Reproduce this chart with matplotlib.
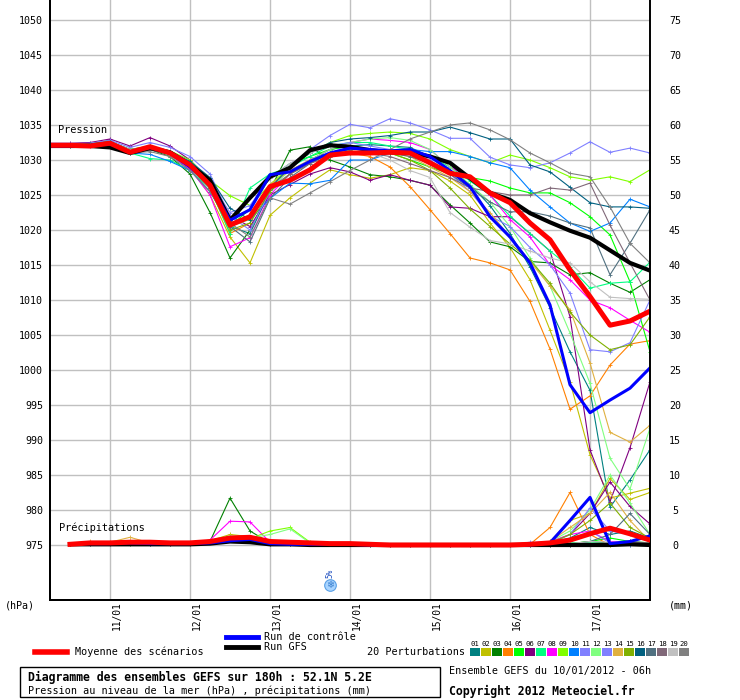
import numpy as np
import matplotlib
matplotlib.use("Agg")
import matplotlib.pyplot as plt
from matplotlib.lines import Line2D
from matplotlib.patches import Rectangle
from matplotlib.transforms import offset_copy

plt.rcParams["font.family"] = ["DejaVu Sans Mono", "DejaVu Sans"]

nan = np.nan

# forecast hours, every 6h from 10/01 06h
hours = list(range(0, 181, 6))
day_hours = [18, 42, 66, 90, 114, 138, 162]
day_labels = ["11/01", "12/01", "13/01", "14/01", "15/01", "16/01", "17/01"]

# sea level pressure (hPa)
p01 = [1032.1, 1032.1, 1032.2, 1032.6, 1031.0, 1031.5, 1030.8, 1028.6, 1025.5, 1020.5, 1019.5, 1025.5, 1028.0, 1030.0, 1031.5, 1032.0, 1032.2, 1032.0, 1031.8, 1030.5, 1028.5, 1026.5, 1023.5, 1019.5, 1014.7, 1008.9, 1002.6, 997.1, 980.4, 984.3, 988.6]
p02 = [1032.0, 1032.0, 1032.1, 1032.5, 1031.2, 1031.6, 1030.8, 1028.8, 1025.0, 1019.0, 1015.3, 1022.1, 1024.6, 1026.7, 1028.6, 1027.9, 1027.4, 1027.9, 1028.9, 1028.5, 1027.0, 1025.0, 1021.0, 1017.5, 1012.9, 1005.7, 998.3, 987.9, 981.7, 982.4, 983.1]
p03 = [1032.3, 1032.3, 1032.3, 1032.8, 1031.0, 1031.5, 1030.5, 1028.0, 1022.5, 1016.0, 1020.0, 1025.7, 1031.4, 1031.9, 1030.0, 1029.0, 1027.9, 1027.6, 1027.1, 1026.4, 1023.6, 1021.0, 1018.3, 1017.6, 1015.5, 1015.3, 1013.6, 1013.9, 1012.4, 1011.1, 1012.9]
p04 = [1032.0, 1032.0, 1032.1, 1032.4, 1031.3, 1031.8, 1031.0, 1029.0, 1026.0, 1019.5, 1021.0, 1026.5, 1028.5, 1030.0, 1030.5, 1031.0, 1030.5, 1029.0, 1026.2, 1022.9, 1019.5, 1016.0, 1015.3, 1014.3, 1009.8, 1003.0, 994.4, 996.3, 1000.7, 1003.7, 1004.2]
p05 = [1032.2, 1032.1, 1032.2, 1032.5, 1031.5, 1031.8, 1031.2, 1029.5, 1026.5, 1020.5, 1023.0, 1027.5, 1029.5, 1030.5, 1031.5, 1032.0, 1031.5, 1031.0, 1030.0, 1029.0, 1028.0, 1027.5, 1027.0, 1026.0, 1025.3, 1025.3, 1023.9, 1021.9, 1019.3, 1012.6, 1002.6]
p06 = [1032.4, 1032.4, 1032.5, 1033.0, 1032.0, 1033.2, 1032.0, 1030.0, 1027.0, 1022.0, 1020.5, 1025.0, 1026.5, 1028.0, 1028.9, 1028.3, 1027.1, 1027.9, 1027.1, 1026.4, 1023.3, 1023.1, 1021.9, 1021.9, 1019.5, 1017.0, 1007.6, 988.6, 981.2, 988.9, 998.3]
p07 = [1032.0, 1032.0, 1032.1, 1032.5, 1031.0, 1030.2, 1030.0, 1028.5, 1026.0, 1019.5, 1026.0, 1028.0, 1029.0, 1030.5, 1032.0, 1032.5, 1032.5, 1032.0, 1031.5, 1030.5, 1029.0, 1027.0, 1025.0, 1022.0, 1019.5, 1017.0, 1014.7, 1011.7, 1012.4, 1012.6, 1015.4]
p08 = [1032.0, 1032.0, 1032.0, 1032.3, 1031.2, 1031.5, 1030.8, 1028.7, 1025.0, 1017.6, 1018.9, 1025.0, 1028.0, 1030.0, 1031.5, 1032.5, 1033.0, 1032.8, 1032.5, 1031.5, 1029.0, 1027.5, 1025.0, 1021.5, 1019.0, 1015.0, 1012.9, 1010.0, 1008.9, 1007.1, 1005.4]
p09 = [1032.1, 1032.1, 1032.2, 1032.6, 1031.5, 1032.0, 1031.3, 1030.0, 1027.1, 1024.9, 1023.5, 1026.5, 1029.0, 1031.0, 1032.5, 1033.5, 1033.8, 1034.0, 1033.8, 1033.0, 1031.5, 1030.5, 1029.6, 1030.7, 1030.0, 1028.9, 1027.6, 1027.1, 1027.6, 1026.9, 1028.6]
p10 = [1032.0, 1032.0, 1032.1, 1032.3, 1031.0, 1030.8, 1029.8, 1028.5, 1025.5, 1021.0, 1021.5, 1024.5, 1026.7, 1026.6, 1027.1, 1030.0, 1030.0, 1031.0, 1031.5, 1031.2, 1031.2, 1030.5, 1029.6, 1028.9, 1025.7, 1023.3, 1021.0, 1019.8, 1021.0, 1024.4, 1023.3]
p11 = [1032.3, 1032.3, 1032.4, 1032.8, 1031.8, 1032.5, 1031.8, 1030.5, 1028.0, 1022.0, 1020.0, 1025.5, 1029.0, 1031.5, 1033.5, 1035.1, 1034.6, 1035.9, 1035.3, 1034.3, 1033.1, 1033.1, 1030.4, 1029.3, 1028.9, 1029.6, 1031.0, 1032.6, 1031.1, 1031.7, 1031.0]
p12 = [1032.0, 1032.0, 1032.1, 1032.5, 1031.4, 1031.6, 1031.0, 1029.0, 1026.0, 1020.5, 1021.5, 1026.0, 1028.5, 1030.0, 1031.5, 1032.5, 1033.0, 1033.2, 1032.8, 1031.5, 1029.0, 1026.5, 1024.0, 1020.5, 1016.0, 1012.0, 1005.3, 998.1, 987.4, 983.0, 991.7]
p13 = [1032.1, 1032.1, 1032.2, 1032.5, 1031.3, 1031.8, 1031.2, 1029.5, 1026.8, 1022.5, 1023.5, 1027.5, 1029.5, 1031.0, 1032.0, 1032.5, 1032.0, 1031.5, 1031.0, 1030.0, 1028.0, 1025.5, 1022.0, 1020.5, 1017.5, 1015.0, 1011.0, 1002.9, 1002.6, 1003.9, 1010.0]
p14 = [1032.0, 1032.0, 1032.0, 1032.4, 1031.2, 1031.5, 1031.0, 1029.2, 1026.5, 1021.0, 1022.0, 1026.5, 1028.5, 1030.0, 1031.0, 1031.5, 1031.5, 1031.0, 1030.5, 1029.0, 1027.5, 1025.5, 1022.5, 1019.0, 1015.5, 1012.0, 1008.6, 1001.0, 991.1, 989.7, 992.1]
p15 = [1032.2, 1032.2, 1032.3, 1032.6, 1031.5, 1032.0, 1031.2, 1029.3, 1026.0, 1020.0, 1021.0, 1025.5, 1028.0, 1029.5, 1031.0, 1031.5, 1031.5, 1031.0, 1030.0, 1028.5, 1026.0, 1023.0, 1020.5, 1018.0, 1015.7, 1012.4, 1008.3, 1005.0, 1002.9, 1003.6, 1007.6]
p16 = [1032.2, 1032.2, 1032.3, 1032.6, 1031.5, 1031.8, 1031.2, 1029.8, 1027.5, 1023.1, 1021.5, 1026.0, 1029.0, 1031.0, 1032.5, 1033.0, 1033.2, 1033.5, 1034.0, 1034.0, 1034.7, 1033.9, 1033.0, 1033.0, 1029.3, 1028.3, 1026.1, 1023.9, 1023.3, 1023.3, 1023.1]
p17 = [1032.1, 1032.1, 1032.2, 1032.5, 1031.3, 1031.6, 1031.0, 1029.2, 1026.0, 1020.5, 1018.3, 1024.5, 1027.5, 1029.5, 1031.0, 1031.5, 1031.5, 1031.0, 1030.5, 1029.5, 1028.0, 1026.0, 1024.0, 1022.6, 1022.6, 1022.0, 1021.0, 1020.3, 1013.6, 1018.1, 1022.9]
p18 = [1032.0, 1032.0, 1032.1, 1032.4, 1031.2, 1031.5, 1030.8, 1029.0, 1026.0, 1021.0, 1022.0, 1026.0, 1028.0, 1029.5, 1030.5, 1031.0, 1031.0, 1030.5, 1029.5, 1028.5, 1027.5, 1026.0, 1025.5, 1025.0, 1025.0, 1026.0, 1025.7, 1026.7, 1020.7, 1015.3, 1010.0]
p19 = [1032.0, 1032.0, 1032.1, 1032.5, 1031.5, 1031.8, 1031.2, 1029.5, 1027.0, 1021.5, 1023.0, 1027.5, 1029.5, 1031.0, 1032.0, 1032.0, 1031.0, 1030.0, 1028.5, 1027.5, 1022.5, 1020.4, 1018.5, 1018.0, 1017.0, 1016.0, 1015.3, 1012.6, 1010.4, 1010.2, 1010.1]
p20 = [1032.0, 1032.0, 1032.1, 1032.4, 1031.0, 1031.2, 1030.5, 1028.5, 1025.5, 1021.0, 1019.0, 1024.6, 1023.7, 1025.3, 1026.9, 1028.5, 1030.0, 1031.5, 1033.0, 1034.0, 1035.0, 1035.3, 1034.3, 1032.9, 1031.0, 1029.6, 1028.1, 1027.6, 1023.3, 1018.1, 1015.3]
p_ctrl = [1032.0, 1032.0, 1032.1, 1032.3, 1031.2, 1031.8, 1031.0, 1029.0, 1026.5, 1021.4, 1022.9, 1027.9, 1028.3, 1029.8, 1031.0, 1031.7, 1031.5, 1031.3, 1031.5, 1030.5, 1028.5, 1026.2, 1021.9, 1019.0, 1015.3, 1009.3, 997.9, 993.9, 995.7, 997.4, 1000.3]
p_gfs = [1032.0, 1032.0, 1032.0, 1031.8, 1031.0, 1031.7, 1031.1, 1029.3, 1027.1, 1021.4, 1024.6, 1027.6, 1028.9, 1031.4, 1032.1, 1031.9, 1031.4, 1031.1, 1031.1, 1030.5, 1029.6, 1027.4, 1025.3, 1024.3, 1022.4, 1021.1, 1019.9, 1018.9, 1017.1, 1015.3, 1014.2]
p_mean = [1032.1, 1032.1, 1032.0, 1032.4, 1031.1, 1031.9, 1031.0, 1029.3, 1026.4, 1020.7, 1021.9, 1026.2, 1027.1, 1028.6, 1030.7, 1031.0, 1031.0, 1031.1, 1031.0, 1029.6, 1028.1, 1027.6, 1025.3, 1023.9, 1021.0, 1018.6, 1014.3, 1010.5, 1006.4, 1007.0, 1008.4]

# 6h precipitation (mm)
r01 = [nan, 0.2, 0.2, 0.3, 0.3, 0.2, 0.3, 0.2, 0.5, 1.0, 0.8, 0.2, 0.2, 0.1, 0.2, 0.1, 0.0, 0.0, 0.0, 0.0, 0.0, 0.0, 0.0, 0.0, 0.0, 0.2, 1.0, 2.5, 1.5, 2.0, 1.0]
r02 = [nan, 0.1, 0.2, 0.2, 0.4, 0.3, 0.2, 0.2, 0.6, 1.5, 1.2, 0.3, 0.2, 0.2, 0.1, 0.1, 0.0, 0.0, 0.0, 0.0, 0.0, 0.0, 0.0, 0.0, 0.0, 0.5, 3.5, 4.5, 9.5, 6.5, 7.5]
r03 = [nan, 0.1, 0.2, 0.2, 0.3, 0.2, 0.2, 0.3, 0.5, 6.7, 2.0, 0.3, 0.2, 0.1, 0.1, 0.1, 0.0, 0.0, 0.0, 0.0, 0.0, 0.0, 0.0, 0.0, 0.0, 0.0, 0.2, 0.5, 0.3, 0.2, 0.1]
r04 = [nan, 0.2, 0.4, 0.3, 0.6, 0.4, 0.3, 0.2, 0.4, 0.9, 0.7, 0.2, 0.1, 0.2, 0.2, 0.1, 0.0, 0.0, 0.0, 0.0, 0.0, 0.0, 0.0, 0.0, 0.1, 2.5, 7.5, 1.5, 0.0, 0.0, 0.0]
r05 = [nan, 0.1, 0.1, 0.2, 0.2, 0.2, 0.2, 0.2, 0.4, 0.9, 0.6, 0.2, 0.2, 0.2, 0.1, 0.1, 0.0, 0.0, 0.0, 0.0, 0.0, 0.0, 0.0, 0.0, 0.0, 0.0, 0.2, 0.5, 1.0, 0.5, 0.3]
r06 = [nan, 0.2, 0.3, 0.3, 0.3, 0.3, 0.3, 0.2, 0.5, 1.2, 1.0, 0.3, 0.2, 0.2, 0.1, 0.1, 0.0, 0.0, 0.0, 0.0, 0.0, 0.0, 0.0, 0.0, 0.0, 0.3, 1.5, 4.5, 9.0, 5.5, 3.0]
r07 = [nan, 0.1, 0.2, 0.2, 0.3, 0.2, 0.2, 0.2, 0.6, 1.0, 0.9, 0.3, 0.2, 0.2, 0.1, 0.1, 0.0, 0.0, 0.0, 0.0, 0.0, 0.0, 0.0, 0.0, 0.0, 0.1, 0.3, 0.3, 0.2, 0.3, 0.2]
r08 = [nan, 0.2, 0.2, 0.3, 0.3, 0.3, 0.2, 0.3, 0.7, 3.4, 3.3, 0.4, 0.2, 0.1, 0.1, 0.1, 0.0, 0.0, 0.0, 0.0, 0.0, 0.0, 0.0, 0.0, 0.3, 0.5, 1.5, 2.0, 0.5, 0.3, 0.2]
r09 = [nan, 0.1, 0.2, 0.2, 0.2, 0.3, 0.2, 0.2, 0.4, 0.8, 0.9, 2.0, 2.5, 0.4, 0.1, 0.1, 0.0, 0.0, 0.0, 0.0, 0.0, 0.0, 0.0, 0.0, 0.0, 0.0, 0.0, 0.1, 0.0, 0.1, 0.0]
r10 = [nan, 0.2, 0.3, 0.2, 0.3, 0.2, 0.2, 0.2, 0.5, 0.9, 0.7, 0.2, 0.1, 0.2, 0.2, 0.1, 0.0, 0.0, 0.0, 0.0, 0.0, 0.0, 0.0, 0.0, 0.0, 0.0, 0.0, 0.2, 0.1, 0.0, 0.2]
r11 = [nan, 0.1, 0.2, 0.3, 0.3, 0.2, 0.3, 0.2, 0.4, 1.1, 0.8, 0.2, 0.2, 0.1, 0.1, 0.1, 0.0, 0.0, 0.0, 0.0, 0.0, 0.0, 0.0, 0.0, 0.4, 0.3, 0.5, 2.0, 0.3, 0.5, 0.2]
r12 = [nan, 0.1, 0.2, 0.2, 0.3, 0.3, 0.2, 0.2, 0.5, 1.3, 1.0, 1.5, 2.3, 0.3, 0.2, 0.1, 0.0, 0.0, 0.0, 0.0, 0.0, 0.0, 0.0, 0.0, 0.0, 0.5, 2.0, 5.0, 10.0, 6.0, 1.5]
r13 = [nan, 0.2, 0.2, 0.2, 0.3, 0.2, 0.2, 0.2, 0.4, 0.9, 0.8, 0.3, 0.2, 0.2, 0.1, 0.1, 0.0, 0.0, 0.0, 0.0, 0.0, 0.0, 0.0, 0.0, 0.0, 0.2, 1.5, 5.3, 2.0, 1.5, 0.5]
r14 = [nan, 0.2, 0.5, 0.4, 1.1, 0.3, 0.3, 0.2, 0.5, 1.0, 0.8, 0.2, 0.2, 0.2, 0.1, 0.1, 0.0, 0.0, 0.0, 0.0, 0.0, 0.0, 0.0, 0.0, 0.0, 0.5, 2.5, 4.5, 7.5, 3.5, 0.5]
r15 = [nan, 0.1, 0.2, 0.2, 0.3, 0.2, 0.2, 0.2, 0.4, 0.8, 0.8, 0.3, 0.2, 0.2, 0.1, 0.1, 0.0, 0.0, 0.0, 0.0, 0.0, 0.0, 0.0, 0.0, 0.0, 0.3, 1.5, 3.5, 6.0, 2.5, 1.0]
r16 = [nan, 0.2, 0.3, 0.3, 0.3, 0.2, 0.2, 0.3, 0.6, 1.0, 0.7, 0.2, 0.1, 0.1, 0.1, 0.1, 0.0, 0.0, 0.0, 0.0, 0.0, 0.0, 0.0, 0.0, 0.0, 0.0, 0.1, 0.2, 0.3, 0.3, 0.2]
r17 = [nan, 0.1, 0.2, 0.2, 0.2, 0.2, 0.2, 0.2, 0.5, 0.9, 0.9, 0.2, 0.2, 0.1, 0.1, 0.1, 0.0, 0.0, 0.0, 0.0, 0.0, 0.0, 0.0, 0.0, 0.0, 0.0, 0.1, 0.5, 1.5, 4.5, 1.5]
r18 = [nan, 0.1, 0.2, 0.2, 0.3, 0.3, 0.2, 0.2, 0.4, 0.8, 0.6, 0.2, 0.1, 0.1, 0.1, 0.1, 0.0, 0.0, 0.0, 0.0, 0.0, 0.0, 0.0, 0.0, 0.0, 0.0, 0.0, 0.1, 0.3, 0.5, 0.2]
r19 = [nan, 0.1, 0.2, 0.2, 0.2, 0.2, 0.2, 0.2, 0.5, 0.9, 0.8, 0.3, 0.2, 0.2, 0.1, 0.1, 0.0, 0.0, 0.0, 0.0, 0.0, 0.0, 0.0, 0.0, 0.0, 0.0, 0.2, 0.5, 0.4, 0.3, 0.2]
r20 = [nan, 0.2, 0.2, 0.3, 0.3, 0.2, 0.2, 0.2, 0.4, 0.9, 0.8, 0.2, 0.1, 0.1, 0.1, 0.1, 0.0, 0.0, 0.0, 0.0, 0.0, 0.0, 0.0, 0.0, 0.0, 0.0, 0.0, 0.1, 0.2, 0.5, 0.3]
r_ctrl = [nan, 0.2, 0.2, 0.2, 0.3, 0.2, 0.2, 0.2, 0.3, 0.6, 0.8, 0.2, 0.1, 0.1, 0.1, 0.1, 0.0, 0.0, 0.0, 0.0, 0.0, 0.0, 0.0, 0.0, 0.0, 0.3, 3.5, 6.8, 0.2, 0.5, 1.3]
r_gfs = [nan, 0.1, 0.1, 0.1, 0.1, 0.1, 0.1, 0.1, 0.2, 0.5, 0.4, 0.1, 0.1, 0.0, 0.0, 0.0, 0.0, 0.0, 0.0, 0.0, 0.0, 0.0, 0.0, 0.0, 0.0, 0.0, 0.0, 0.0, 0.0, 0.1, 0.0]
r_mean = [nan, 0.1, 0.3, 0.3, 0.4, 0.4, 0.3, 0.3, 0.5, 1.0, 1.1, 0.5, 0.4, 0.3, 0.2, 0.2, 0.1, 0.0, 0.0, 0.0, 0.0, 0.0, 0.0, 0.0, 0.1, 0.3, 0.7, 1.6, 2.4, 1.6, 0.7]

pert_colors = ["#008080", "#c0c000", "#008000", "#ff8000", "#00ff00",
               "#800080", "#00ff80", "#ff00ff", "#80ff00", "#0080ff",
               "#8080ff", "#80ff80", "#8080ff", "#e0b040", "#80b000",
               "#006080", "#507080", "#806878", "#c0c0c0", "#808080"]

pressures = [p01, p02, p03, p04, p05, p06, p07, p08, p09, p10,
             p11, p12, p13, p14, p15, p16, p17, p18, p19, p20]
rains = [r01, r02, r03, r04, r05, r06, r07, r08, r09, r10,
         r11, r12, r13, r14, r15, r16, r17, r18, r19, r20]

W, H = 740, 700


def fx(px):
    return px / W


def fy(py):
    return 1 - py / H


fig = plt.figure(figsize=(7.4, 7.0), dpi=100)
ax = fig.add_axes([fx(50), fy(600), 600 / W, 600 / H])
ax.set_xlim(0, 180)
ax.set_ylim(1050 - 580 / 7, 1050 + 20 / 7)

ax2 = ax.twinx()
ax2.set_ylim(ax.get_ylim()[0] - 975, ax.get_ylim()[1] - 975)

# grid
for v in range(975, 1051, 5):
    ax.axhline(v, color="#c0c0c0", lw=1.0, zorder=0)
for h in day_hours:
    ax.axvline(h, color="#c0c0c0", lw=1.0, zorder=0)

# pressure
for p, c in zip(pressures, pert_colors):
    ax.plot(hours, p, color=c, lw=0.8, marker="+", ms=2.5, mew=0.6, zorder=2)
ax.plot(hours, p_gfs, color="black", lw=3.0, zorder=3)
ax.plot(hours, p_ctrl, color="#0000ff", lw=2.2, zorder=4)
ax.plot(hours, p_mean, color="#ff0000", lw=3.6, zorder=5)

# precipitation
for r, c in zip(rains, pert_colors):
    ax2.plot(hours, r, color=c, lw=0.8, marker="+", ms=2.5, mew=0.6, zorder=2)
ax2.plot(hours, r_gfs, color="black", lw=3.0, zorder=3)
ax2.plot(hours, r_ctrl, color="#0000ff", lw=2.2, zorder=4)
ax2.plot(hours, r_mean, color="#ff0000", lw=3.6, zorder=5)

# axes styling
for a in (ax, ax2):
    a.spines["top"].set_visible(False)
    a.set_xticks([])
ax.spines["right"].set_visible(False)
for s in ("left", "right", "bottom"):
    ax2.spines[s].set_linewidth(1.4)
ax.spines["left"].set_linewidth(1.4)
ax.spines["bottom"].set_linewidth(1.4)

ax.set_yticks(range(975, 1051, 5))
ax.tick_params(axis="y", length=0, pad=5, labelsize=7.2)
ax2.set_yticks(range(0, 76, 5))
ax2.tick_params(axis="y", length=0, pad=18, labelsize=7.2)
for lab in ax2.get_yticklabels():
    lab.set_horizontalalignment("center")

# day labels
trans = offset_copy(ax.get_xaxis_transform(), fig=fig, x=5, y=-0.7, units="points")
for h, lab in zip(day_hours, day_labels):
    ax.text(h, 0, lab, transform=trans, rotation=90, ha="center", va="top", fontsize=6.9)

fig.text(fx(20), fy(606), "(hPa)", ha="center", va="center", fontsize=7.2)
fig.text(fx(681), fy(606), "(mm)", ha="center", va="center", fontsize=7.2)

ax.text(8 / 600, 1 - 130 / 600, "Pression", transform=ax.transAxes, ha="left", va="center", fontsize=7.4)
ax.text(9 / 600, 1 - 528 / 600, "Précipitations", transform=ax.transAxes, ha="left", va="center", fontsize=7.4)

# snow probability marker
ax.scatter([84], [969.3], s=70, color="#a8d4ff", edgecolor="#5aa0e6", lw=0.8, zorder=6)
ax.text(84, 969.3, "❄", color="#3a80d0", fontsize=7, ha="center", va="center",
        family="DejaVu Sans", zorder=7)
ax.text(84, 971.0, "5%", color="#2050c0", fontsize=5.5, rotation=90, ha="center", va="center", zorder=7)

# legend
fig.add_artist(Line2D([fx(35), fx(67)], [fy(652), fy(652)], color="#ff0000", lw=4, transform=fig.transFigure))
fig.text(fx(75), fy(652), "Moyenne des scénarios", ha="left", va="center", fontsize=7.3)
fig.add_artist(Line2D([fx(226), fx(258)], [fy(637), fy(637)], color="#0000ff", lw=3.5, transform=fig.transFigure))
fig.text(fx(264), fy(637), "Run de contrôle", ha="left", va="center", fontsize=7.3)
fig.add_artist(Line2D([fx(226), fx(258)], [fy(647), fy(647)], color="black", lw=3.5, transform=fig.transFigure))
fig.text(fx(264), fy(647), "Run GFS", ha="left", va="center", fontsize=7.3)
fig.text(fx(465), fy(652), "20 Perturbations", ha="right", va="center", fontsize=7.3)
for k, c in enumerate(pert_colors):
    x0 = 470 + 11 * k
    fig.add_artist(Rectangle((fx(x0), fy(656)), 10 / W, 8 / H, facecolor=c, edgecolor="none",
                             transform=fig.transFigure))
    fig.text(fx(x0 + 5), fy(644), "%02d" % (k + 1), ha="center", va="center", fontsize=5.2)

# info box
fig.add_artist(Rectangle((fx(20), fy(697)), 420 / W, 30 / H, fill=False, edgecolor="black", lw=1,
                         transform=fig.transFigure))
fig.text(fx(28), fy(677), "Diagramme des ensembles GEFS sur 180h : 52.1N 5.2E",
         ha="left", va="center", fontsize=8.3, fontweight="bold")
fig.text(fx(28), fy(691), "Pression au niveau de la mer (hPa) , précipitations (mm)",
         ha="left", va="center", fontsize=7.3)
fig.text(fx(449), fy(671), "Ensemble GEFS du 10/01/2012 - 06h", ha="left", va="center", fontsize=7.3)
fig.text(fx(449), fy(691), "Copyright 2012 Meteociel.fr", ha="left", va="center",
         fontsize=8.3, fontweight="bold")

fig.savefig("out.png", dpi=100)
